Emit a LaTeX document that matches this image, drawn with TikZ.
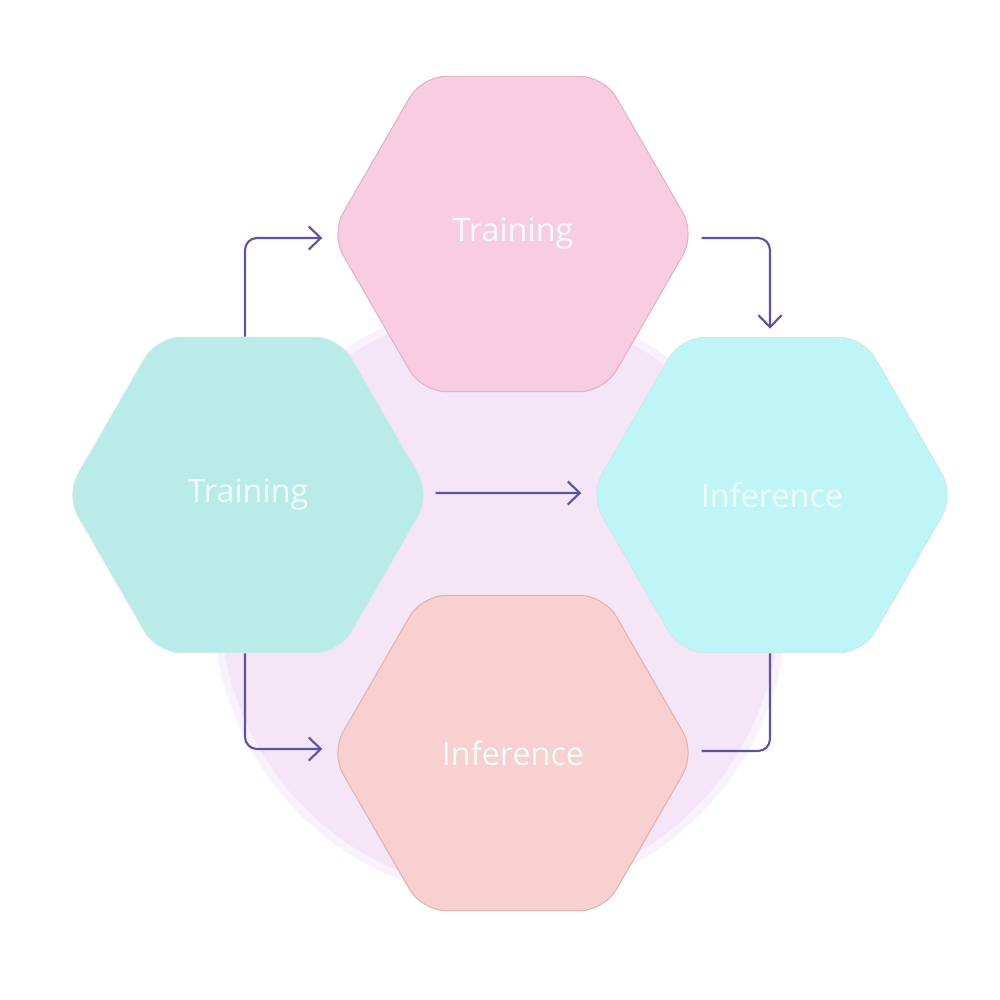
\documentclass[tikz,border=0pt]{standalone}
\usepackage{fontspec}
\setmainfont{Open Sans}
\usetikzlibrary{shapes.geometric,arrows.meta,calc}
\definecolor{pinkhex}{HTML}{F8CDE1}
\definecolor{pinkedge}{HTML}{E0B3C8}
\definecolor{tealL}{HTML}{B9EBE9}
\definecolor{tealR}{HTML}{BEF6F8}
\definecolor{tealedge}{HTML}{A6DCDD}
\definecolor{salmon}{HTML}{F9D0D0}
\definecolor{salmonedge}{HTML}{E0B2B2}
\definecolor{lavender}{HTML}{F4E6F7}
\definecolor{conncol}{HTML}{5E53A3}
\definecolor{labelcol}{HTML}{EFFCFA}
\tikzset{
  hexbox/.style={regular polygon, regular polygon sides=6, minimum size=3.64cm,
    inner sep=0pt, rounded corners=0.24cm, line width=0.3pt,
    font=\fontsize{9.2}{11}\selectfont, text=labelcol},
  conn/.style={draw=conncol, line width=0.6pt, rounded corners=0.12cm},
  tip/.style={-{Straight Barb[length=1.2mm,width=2.3mm,line width=0.6pt]}}
}
\begin{document}
\begin{tikzpicture}[x=0.01cm,y=-0.01cm]
\useasboundingbox (0,0) rectangle (1000,1000);
\fill[white] (0,0) rectangle (1000,1000);
% background disc
\fill[lavender!55] (500,600) ellipse [x radius=288, y radius=298];
\fill[lavender] (500,600) ellipse [x radius=280, y radius=290];
% hexagons
\node[hexbox, fill=pinkhex, draw=pinkedge] (T) at (513,234) {Training};
\node[hexbox, fill=tealL, draw=tealedge!60] (L) at (248,495) {Training};
\node[hexbox, fill=tealR, draw=tealedge!60] (R) at (772,495) {Inference};
\node[hexbox, fill=salmon, draw=salmonedge] (B) at (513,753) {Inference};
% connectors
\draw[conn, tip] ($(L.north)+(-3,0)$) |- ($(T.west)+(-8,4)$);
\draw[conn, tip] ($(T.east)+(6,4)$) -| ($(R.north)+(-2,-8)$);
\draw[conn, tip] ($(L.east)+(5,-2)$) -- ($(R.west)+(-8,-2)$);
\draw[conn, tip] ($(L.south)+(-3,0)$) |- ($(B.west)+(-8,-4)$);
\draw[conn] ($(B.east)+(6,-2)$) -| ($(R.south)+(-2,0)$);
\end{tikzpicture}
\end{document}
